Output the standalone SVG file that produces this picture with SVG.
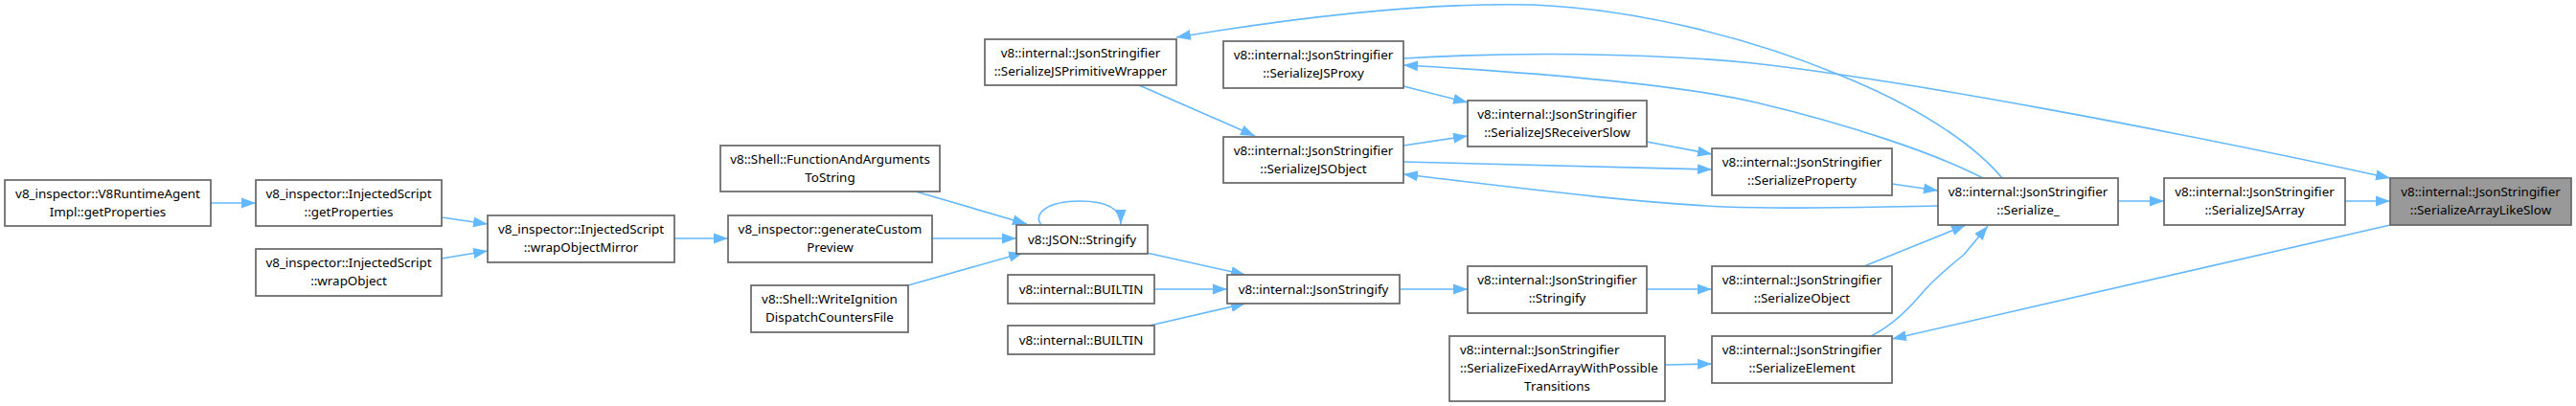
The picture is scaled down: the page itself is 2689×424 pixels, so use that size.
<svg xmlns="http://www.w3.org/2000/svg" width="2689" height="424" viewBox="0 0 2689 424">
<style>
.node rect{fill:#ffffff;stroke:#666666;stroke-width:1.7}
.node.main rect{fill:#999999}
.node text{font-family:"Noto Sans","Liberation Sans",sans-serif;font-size:13.4px;fill:#000000;text-anchor:middle}
.node text.l{text-anchor:start}
#edges path{fill:none;stroke:#63b8ff;stroke-width:1.6;marker-end:url(#arr)}
</style>
<defs>
<marker id="arr" markerUnits="userSpaceOnUse" markerWidth="16" markerHeight="12" refX="15" refY="6" orient="auto">
<path d="M0,0.5 L15,6 L0,11.5 z" fill="#63b8ff"/>
</marker>
</defs>
<rect width="2689" height="424" fill="#ffffff"/>
<g id="edges">
<path d="M220,212 L267,212"/>
<path d="M461,227 L509,234"/>
<path d="M461,270 L509,262"/>
<path d="M704,249 L760,249"/>
<path d="M956,200 L1072,234"/>
<path d="M973,249 L1061,249"/>
<path d="M948,298 L1068,264"/>
<path d="M1087,235 C1078,224 1092,210 1127,210 C1155,210 1170,218 1170,234"/>
<path d="M1197,264 L1300,287"/>
<path d="M1205,302 L1281,302"/>
<path d="M1200,340 L1300,317"/>
<path d="M1461,302 L1532,302"/>
<path d="M1719,302 L1787,302"/>
<path d="M1946,278 L2052,235"/>
<path d="M1738,381 L1787,380"/>
<path d="M1953,351 C1975,340 1990,325 2003,310 C2015,295 2030,282 2050,266 L2075,236"/>
<path d="M2090,186 C2060,150 2000,110 1917,77 C1840,45 1720,10 1600,5 C1480,2 1330,22 1228,39"/>
<path d="M2070,186 C2020,160 1930,130 1833,107 C1760,90 1640,78 1465,68"/>
<path d="M1465,61 C1580,54 1720,55 1830,66 C1990,84 2250,133 2495,186"/>
<path d="M1465,90 L1532,107"/>
<path d="M1465,152 L1532,142"/>
<path d="M1465,169 L1787,177"/>
<path d="M2023,215 C1950,216 1880,219 1800,216 C1700,211 1600,198 1465,182"/>
<path d="M1719,148 L1787,161"/>
<path d="M1975,192 L2023,199"/>
<path d="M2211,210 L2259,210"/>
<path d="M2448,210 L2495,210"/>
<path d="M2495,235 L1975,354"/>
<path d="M1189,89 L1310,142"/>
</g>
<g id="n1" class="node"><rect x="5" y="188" width="215" height="48"/><text x="112.5" y="207">v8_inspector::V8RuntimeAgent</text><text x="112.5" y="226">Impl::getProperties</text></g>
<g id="n2" class="node"><rect x="267" y="188" width="194" height="48"/><text x="364" y="207">v8_inspector::InjectedScript</text><text x="364" y="226">::getProperties</text></g>
<g id="n3" class="node"><rect x="267" y="260" width="194" height="49"/><text x="364" y="279">v8_inspector::InjectedScript</text><text x="364" y="298">::wrapObject</text></g>
<g id="n4" class="node"><rect x="509" y="225" width="195" height="49"/><text x="606.5" y="244">v8_inspector::InjectedScript</text><text x="606.5" y="263">::wrapObjectMirror</text></g>
<g id="n5" class="node"><rect x="752" y="152" width="229" height="48"/><text x="866.5" y="171">v8::Shell::FunctionAndArguments</text><text x="866.5" y="190">ToString</text></g>
<g id="n6" class="node"><rect x="760" y="225" width="213" height="49"/><text x="866.5" y="244">v8_inspector::generateCustom</text><text x="866.5" y="263">Preview</text></g>
<g id="n7" class="node"><rect x="784" y="298" width="164" height="49"/><text x="866" y="317">v8::Shell::WriteIgnition</text><text x="866" y="336">DispatchCountersFile</text></g>
<g id="n8" class="node"><rect x="1061" y="235" width="137" height="30"/><text x="1129.5" y="255">v8::JSON::Stringify</text></g>
<g id="n9" class="node"><rect x="1052" y="287" width="153" height="30"/><text x="1128.5" y="307">v8::internal::BUILTIN</text></g>
<g id="n10" class="node"><rect x="1052" y="340" width="153" height="30"/><text x="1128.5" y="360">v8::internal::BUILTIN</text></g>
<g id="n11" class="node"><rect x="1281" y="287" width="180" height="30"/><text x="1371" y="307">v8::internal::JsonStringify</text></g>
<g id="n12" class="node"><rect x="1028" y="41" width="200" height="48"/><text x="1128" y="60">v8::internal::JsonStringifier</text><text x="1128" y="79">::SerializeJSPrimitiveWrapper</text></g>
<g id="n13" class="node"><rect x="1277" y="43" width="188" height="49"/><text x="1371" y="62">v8::internal::JsonStringifier</text><text x="1371" y="81">::SerializeJSProxy</text></g>
<g id="n14" class="node"><rect x="1277" y="143" width="188" height="48"/><text x="1371" y="162">v8::internal::JsonStringifier</text><text x="1371" y="181">::SerializeJSObject</text></g>
<g id="n15" class="node"><rect x="1532" y="105" width="187" height="48"/><text x="1625.5" y="124">v8::internal::JsonStringifier</text><text x="1625.5" y="143">::SerializeJSReceiverSlow</text></g>
<g id="n16" class="node"><rect x="1787" y="155" width="188" height="49"/><text x="1881" y="174">v8::internal::JsonStringifier</text><text x="1881" y="193">::SerializeProperty</text></g>
<g id="n17" class="node"><rect x="2023" y="186" width="188" height="49"/><text x="2117" y="205">v8::internal::JsonStringifier</text><text x="2117" y="224">::Serialize_</text></g>
<g id="n18" class="node"><rect x="1532" y="278" width="187" height="49"/><text x="1625.5" y="297">v8::internal::JsonStringifier</text><text x="1625.5" y="316">::Stringify</text></g>
<g id="n19" class="node"><rect x="1787" y="278" width="188" height="49"/><text x="1881" y="297">v8::internal::JsonStringifier</text><text x="1881" y="316">::SerializeObject</text></g>
<g id="n20" class="node"><rect x="1513" y="351" width="225" height="68"/><text class="l" x="1524" y="370">v8::internal::JsonStringifier</text><text class="l" x="1524" y="389">::SerializeFixedArrayWithPossible</text><text x="1625.5" y="408">Transitions</text></g>
<g id="n21" class="node"><rect x="1787" y="351" width="188" height="49"/><text x="1881" y="370">v8::internal::JsonStringifier</text><text x="1881" y="389">::SerializeElement</text></g>
<g id="n22" class="node"><rect x="2259" y="186" width="189" height="49"/><text x="2353.5" y="205">v8::internal::JsonStringifier</text><text x="2353.5" y="224">::SerializeJSArray</text></g>
<g id="n23" class="node main"><rect x="2495" y="186" width="189" height="49"/><text x="2589.5" y="205">v8::internal::JsonStringifier</text><text x="2589.5" y="224">::SerializeArrayLikeSlow</text></g>
</svg>
